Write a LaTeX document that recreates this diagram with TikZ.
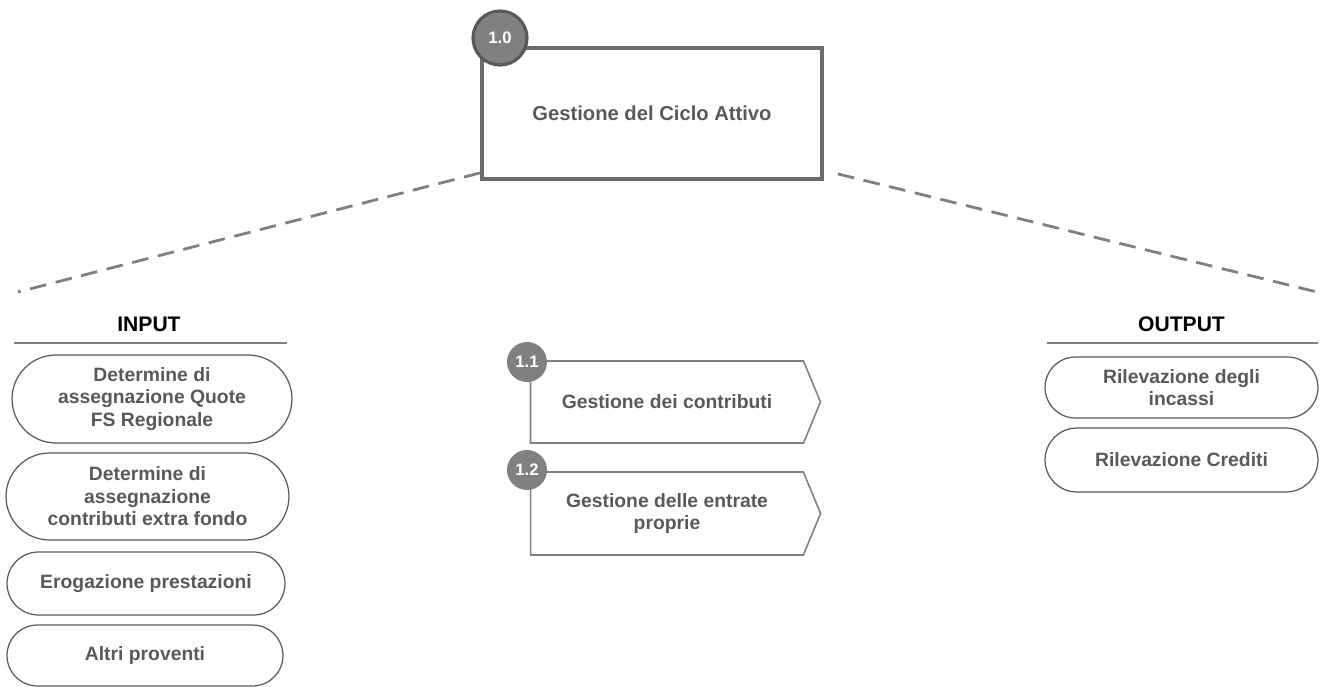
\documentclass[tikz,border=0pt]{standalone}
\usepackage{fontspec}
\setmainfont{Liberation Sans}
\usetikzlibrary{shapes.misc, shapes.symbols, calc}
\definecolor{txtgray}{HTML}{595959}
\definecolor{boxgray}{HTML}{6B6B6B}
\definecolor{dashgray}{HTML}{808080}

\tikzset{
  mainbox/.style={draw=boxgray, line width=2.2pt, minimum width=6.8cm, minimum height=2.62cm,
    text=txtgray, font=\fontsize{11.5}{13.5}\selectfont\bfseries},
  badge/.style={circle, fill=dashgray, text=white, inner sep=0pt, font=\fontsize{9.5}{11}\selectfont\bfseries},
  iobox/.style={rounded rectangle, draw=txtgray, line width=0.7pt, text=txtgray, align=center,
    inner sep=0pt, font=\fontsize{11}{12.8}\selectfont\bfseries},
  subbox/.style={signal, signal to=east, signal pointer angle=135, draw=dashgray, line width=0.9pt,
    minimum width=5.8cm, minimum height=1.64cm, inner sep=0pt, align=center,
    text=txtgray, font=\fontsize{11}{12.8}\selectfont\bfseries},
  headlabel/.style={font=\fontsize{12}{14}\selectfont\bfseries},
  dashline/.style={draw=dashgray, line width=1.6pt, dash pattern=on 9.5pt off 5.5pt},
}

\begin{document}
\begin{tikzpicture}[x=0.02cm, y=-0.02cm]
\useasboundingbox (0,0) rectangle (1321,686);

% top process
\node[mainbox] (main) at (652,113.5) {Gestione del Ciclo Attivo};
\node[badge, draw=txtgray, line width=1.8pt, minimum size=1.08cm] (b10) at (500,38) {1.0};

\coordinate (lend) at (18,292);
\coordinate (rend) at (1321,293);
\draw[dashline] ($(main.south west)+(0,-8)$) -- (lend);
\draw[dashline] ($(main.south east)+(14,-7)$) -- (rend);

% input
\node[headlabel] (inlab) at (149,324) {INPUT};
\draw[dashgray, line width=0.7pt] (14,343) -- (287,343);
\node[iobox, minimum width=5.6cm, minimum height=1.76cm] (in1) at (152,399)
  {Determine di\\assegnazione Quote\\FS Regionale};
\node[iobox, minimum width=5.66cm, minimum height=1.74cm] (in2) at (147.5,496.5)
  {Determine di\\assegnazione\\contributi extra fondo};
\node[iobox, minimum width=5.56cm, minimum height=1.26cm] (in3) at (146,583.5) {Erogazione prestazioni};
\node[iobox, minimum width=5.52cm, minimum height=1.22cm] (in4) at (145,655.5) {Altri proventi};

% sub processes
\node[subbox] (s11) at (667,402) {Gestione dei contributi};
\node[badge, minimum size=0.8cm] (b11) at (527,362) {1.1};
\node[subbox, minimum height=1.66cm] (s12) at (667,513.5) {Gestione delle entrate\\proprie};
\node[badge, minimum size=0.8cm] (b12) at (527,470) {1.2};

% output
\node[headlabel] (outlab) at (1181.5,324) {OUTPUT};
\draw[dashgray, line width=0.7pt] (1047,343) -- (1318,343);
\node[iobox, minimum width=5.46cm, minimum height=1.22cm] (out1) at (1181.5,387.5) {Rilevazione degli\\incassi};
\node[iobox, minimum width=5.46cm, minimum height=1.28cm] (out2) at (1181.5,460) {Rilevazione Crediti};
\end{tikzpicture}
\end{document}
